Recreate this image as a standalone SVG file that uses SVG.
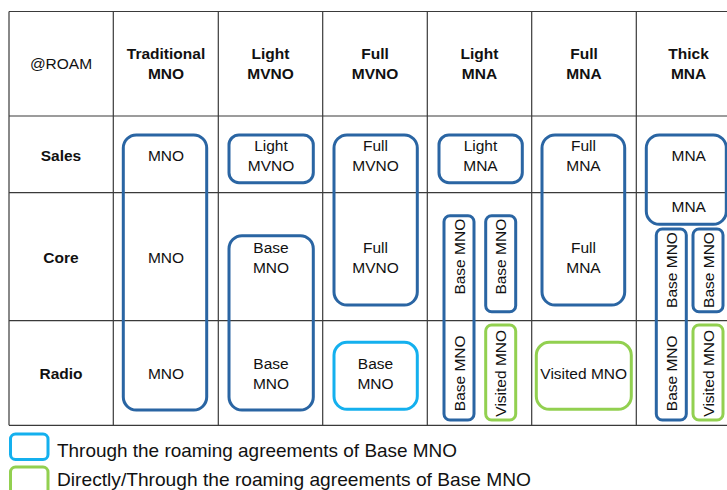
<svg xmlns="http://www.w3.org/2000/svg" width="727" height="490" viewBox="0 0 727 490">
<style>
.grid{stroke:#3a3a3a;stroke-width:1.2;fill:none}
.b{fill:none;stroke:#2A65A3;stroke-width:3}
.c{fill:none;stroke:#14B0EE;stroke-width:3}
.g{fill:none;stroke:#92D050;stroke-width:3}
text{font-family:"Liberation Sans",Arial,sans-serif;font-size:15.5px;fill:#111;text-anchor:middle}
.h{font-weight:bold}
.leg{font-size:19px;text-anchor:start}
</style>
<rect width="727" height="490" fill="#fff"/>
<g id="grid">
<path class="grid" d="M9,11.5H741M9,116H741M9,192.7H741M9,320.7H741M9,425.3H741M9,11.5V425.3M113.3,11.5V425.3M218.3,11.5V425.3M322.7,11.5V425.3M427.3,11.5V425.3M531.7,11.5V425.3M636.3,11.5V425.3"/>
</g>
<g id="headers">
<text x="61" y="69">@ROAM</text>
<text class="h" x="166" y="59">Traditional</text><text class="h" x="166" y="79">MNO</text>
<text class="h" x="270.5" y="59">Light</text><text class="h" x="270.5" y="79">MVNO</text>
<text class="h" x="375" y="59">Full</text><text class="h" x="375" y="79">MVNO</text>
<text class="h" x="479.5" y="59">Light</text><text class="h" x="479.5" y="79">MNA</text>
<text class="h" x="584" y="59">Full</text><text class="h" x="584" y="79">MNA</text>
<text class="h" x="688.6" y="59">Thick</text><text class="h" x="688.6" y="79">MNA</text>
<text class="h" x="61" y="160.5">Sales</text>
<text class="h" x="61" y="262.5">Core</text>
<text class="h" x="61" y="378.5">Radio</text>
</g>
<g id="trad-mno">
<rect class="b" x="123.3" y="135" width="83.4" height="275" rx="13"/>
<text x="166" y="160.5">MNO</text>
<text x="166" y="262.5">MNO</text>
<text x="166" y="378.5">MNO</text>
</g>
<g id="light-mvno-sales">
<rect class="b" x="229" y="135" width="84.3" height="47.7" rx="10"/>
<text x="271" y="150.5">Light</text><text x="271" y="170.5">MVNO</text>
</g>
<g id="light-mvno-base">
<rect class="b" x="229" y="235.7" width="84.3" height="174.3" rx="13"/>
<text x="271" y="252.5">Base</text><text x="271" y="272.5">MNO</text>
<text x="271" y="368.5">Base</text><text x="271" y="388.5">MNO</text>
</g>
<g id="full-mvno">
<rect class="b" x="334" y="135" width="83.3" height="170" rx="13"/>
<text x="375.5" y="150.5">Full</text><text x="375.5" y="170.5">MVNO</text>
<text x="375.5" y="252.5">Full</text><text x="375.5" y="272.5">MVNO</text>
</g>
<g id="full-mvno-radio">
<rect class="c" x="334" y="342.3" width="83.3" height="67" rx="13"/>
<text x="375.5" y="368.5">Base</text><text x="375.5" y="388.5">MNO</text>
</g>
<g id="light-mna-sales">
<rect class="b" x="439" y="135" width="83.3" height="47.7" rx="10"/>
<text x="480.5" y="150.5">Light</text><text x="480.5" y="170.5">MNA</text>
</g>
<g id="light-mna-base1">
<rect class="b" x="444" y="215.7" width="30" height="204.3" rx="6"/>
<text transform="translate(464.5,256.7) rotate(-90)">Base MNO</text>
<text transform="translate(464.5,373.3) rotate(-90)">Base MNO</text>
</g>
<g id="light-mna-base2">
<rect class="b" x="485.7" y="215.7" width="30" height="96" rx="6"/>
<text transform="translate(506.2,256.7) rotate(-90)">Base MNO</text>
</g>
<g id="light-mna-visited">
<rect class="g" x="485.7" y="325" width="30" height="95" rx="6"/>
<text transform="translate(506.2,373.3) rotate(-90)">Visited MNO</text>
</g>
<g id="full-mna">
<rect class="b" x="542" y="135" width="82.7" height="170" rx="13"/>
<text x="583.5" y="150.5">Full</text><text x="583.5" y="170.5">MNA</text>
<text x="583.5" y="252.5">Full</text><text x="583.5" y="272.5">MNA</text>
</g>
<g id="full-mna-visited">
<rect class="g" x="536.3" y="342.3" width="95" height="67" rx="13"/>
<text x="583.7" y="378.8" font-size="16">Visited MNO</text>
</g>
<g id="thick-mna">
<rect class="b" x="646.3" y="135" width="80" height="89.3" rx="13"/>
<text x="688.7" y="160.5">MNA</text>
<text x="688.7" y="212">MNA</text>
</g>
<g id="thick-mna-base1">
<rect class="b" x="656.3" y="229" width="30" height="191" rx="6"/>
<text transform="translate(676.8,270) rotate(-90)">Base MNO</text>
<text transform="translate(676.8,373.3) rotate(-90)">Base MNO</text>
</g>
<g id="thick-mna-base2">
<rect class="b" x="693" y="229" width="30" height="82.7" rx="6"/>
<text transform="translate(713.5,270) rotate(-90)">Base MNO</text>
</g>
<g id="thick-mna-visited">
<rect class="g" x="693" y="325" width="30" height="95" rx="6"/>
<text transform="translate(713.5,373.3) rotate(-90)">Visited MNO</text>
</g>
<g id="legend">
<rect class="c" x="10.5" y="434" width="37.5" height="25.5" rx="5"/>
<text class="leg" x="57" y="457" textLength="400" lengthAdjust="spacingAndGlyphs">Through the roaming agreements of Base MNO</text>
<rect class="g" x="10.5" y="467" width="37.5" height="30" rx="5"/>
<text class="leg" x="57" y="486" textLength="474" lengthAdjust="spacingAndGlyphs">Directly/Through the roaming agreements of Base MNO</text>
</g>
</svg>
